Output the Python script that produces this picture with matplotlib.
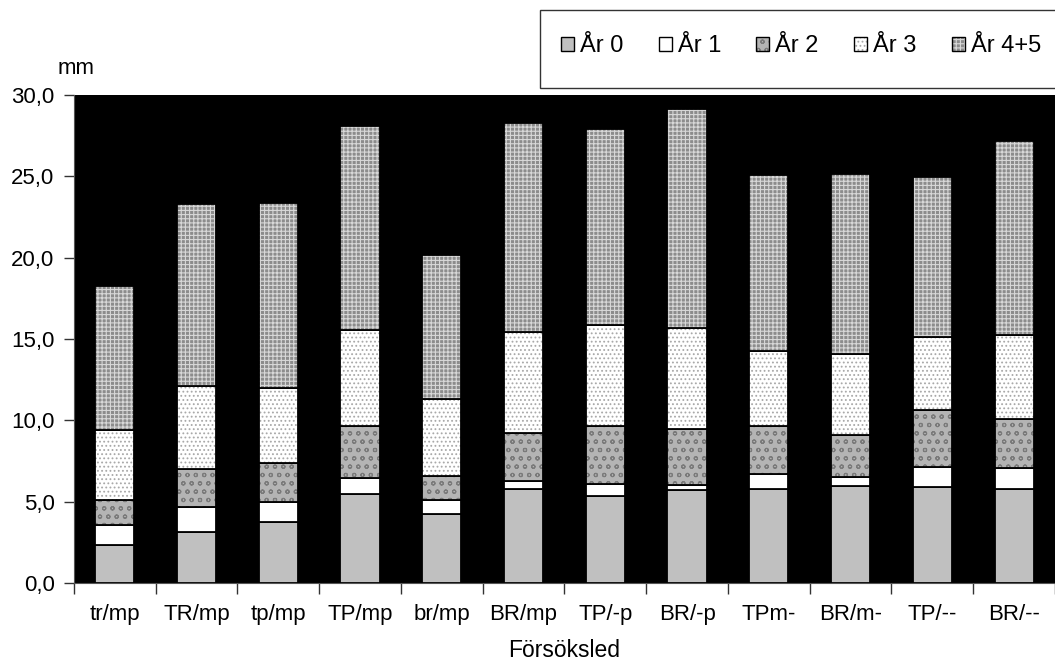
import numpy as np
import matplotlib
matplotlib.use("Agg")
import matplotlib.pyplot as plt
from matplotlib.patches import Patch, Rectangle
from matplotlib.legend_handler import HandlerTuple
from matplotlib.ticker import FuncFormatter

plt.rcParams['font.family'] = ['Liberation Sans', 'DejaVu Sans']

categories = ['tr/mp', 'TR/mp', 'tp/mp', 'TP/mp', 'br/mp', 'BR/mp',
              'TP/-p', 'BR/-p', 'TPm-', 'BR/m-', 'TP/--', 'BR/--']
series = ['År 0', 'År 1', 'År 2', 'År 3', 'År 4+5']

# cumulative tops (mm)
tops = {
    'År 0':   [2.35, 3.13, 3.75, 5.50, 4.25, 5.78, 5.35, 5.70, 5.78, 5.96, 5.90, 5.78],
    'År 1':   [3.56, 4.67, 4.98, 6.45, 5.10, 6.27, 6.08, 6.00, 6.70, 6.50, 7.13, 7.07],
    'År 2':   [5.10, 7.00, 7.37, 9.65, 6.60, 9.20, 9.65, 9.47, 9.65, 9.10, 10.63, 10.08],
    'År 3':   [9.40, 12.10, 12.00, 15.55, 11.30, 15.43, 15.86, 15.67, 14.26, 14.07, 15.12, 15.24],
    'År 4+5': [18.25, 23.30, 23.35, 28.10, 20.15, 28.27, 27.90, 29.13, 25.08, 25.14, 24.95, 27.17],
}

faces = {'År 0': '#c0c0c0', 'År 1': '#ffffff', 'År 2': '#b4b4b4',
         'År 3': '#ffffff', 'År 4+5': '#8c8c8c'}
hatches = {'År 0': None, 'År 1': None, 'År 2': 'oo', 'År 3': '....', 'År 4+5': '++++'}
hatch_cols = {'År 0': 'black', 'År 1': 'black', 'År 2': '#7a7a7a',
              'År 3': '#a8a8a8', 'År 4+5': '#d8d8d8'}

fig = plt.figure(figsize=(10.55, 6.7), dpi=100)
ax = fig.add_axes([0.0701, 0.1299, 0.9299, 0.7281])
ax.set_facecolor('black')

x = np.arange(len(categories))
w = 0.48
bottom = np.zeros(len(categories))
handles = []
for s in series:
    top = np.array(tops[s])
    h = top - bottom
    plt.rcParams['hatch.color'] = hatch_cols[s]
    plt.rcParams['hatch.linewidth'] = 0.8
    ax.bar(x, h, w, bottom=bottom, color=faces[s], hatch=hatches[s], linewidth=0)
    ax.bar(x, h, w, bottom=bottom, fill=False, edgecolor='black', linewidth=1.3)
    p1 = Patch(facecolor=faces[s], hatch=hatches[s], linewidth=0)
    p2 = Patch(fill=False, edgecolor='black', linewidth=1.0)
    handles.append((p1, p2))
    bottom = top

ax.set_xlim(-0.5, len(categories) - 0.5)
ax.set_ylim(0, 30)
ax.set_yticks(np.arange(0, 30.1, 5))
ax.yaxis.set_major_formatter(FuncFormatter(lambda v, p: f'{v:.1f}'.replace('.', ',')))
ax.set_xticks(np.arange(-0.5, len(categories), 1))
ax.set_xticklabels([])
ax.set_xticks(x, minor=True)
ax.set_xticklabels(categories, minor=True)
ax.tick_params(axis='x', which='major', length=8, width=1, color='#333333', direction='out')
ax.tick_params(axis='x', which='minor', length=0, pad=15, labelsize=16)
ax.tick_params(axis='y', length=7, width=1, color='#333333', labelsize=16, pad=7)
for sp in ['top', 'right']:
    ax.spines[sp].set_visible(False)
ax.spines['left'].set_color('#555555')
ax.spines['bottom'].set_color('#555555')

ax.set_xlabel('Försöksled', fontsize=16.5, labelpad=10)
fig.text(0.072, 0.898, 'mm', fontsize=16, ha='center', va='center')

# legend box (runs past the right edge, as in the original)
fig.patches.append(Rectangle((0.5118, 0.8687), 0.52, 0.1164, transform=fig.transFigure,
                             facecolor='white', edgecolor='#333333', linewidth=1.0))
fig.legend(handles, series, loc='center left', bbox_to_anchor=(0.5318, 0.9313),
           ncol=5, fontsize=17, frameon=False, handlelength=0.55, handleheight=0.55,
           handletextpad=0.25, columnspacing=1.5, borderpad=0, borderaxespad=0,
           handler_map={tuple: HandlerTuple(ndivide=1)})

fig.savefig('out.png', dpi=100)
